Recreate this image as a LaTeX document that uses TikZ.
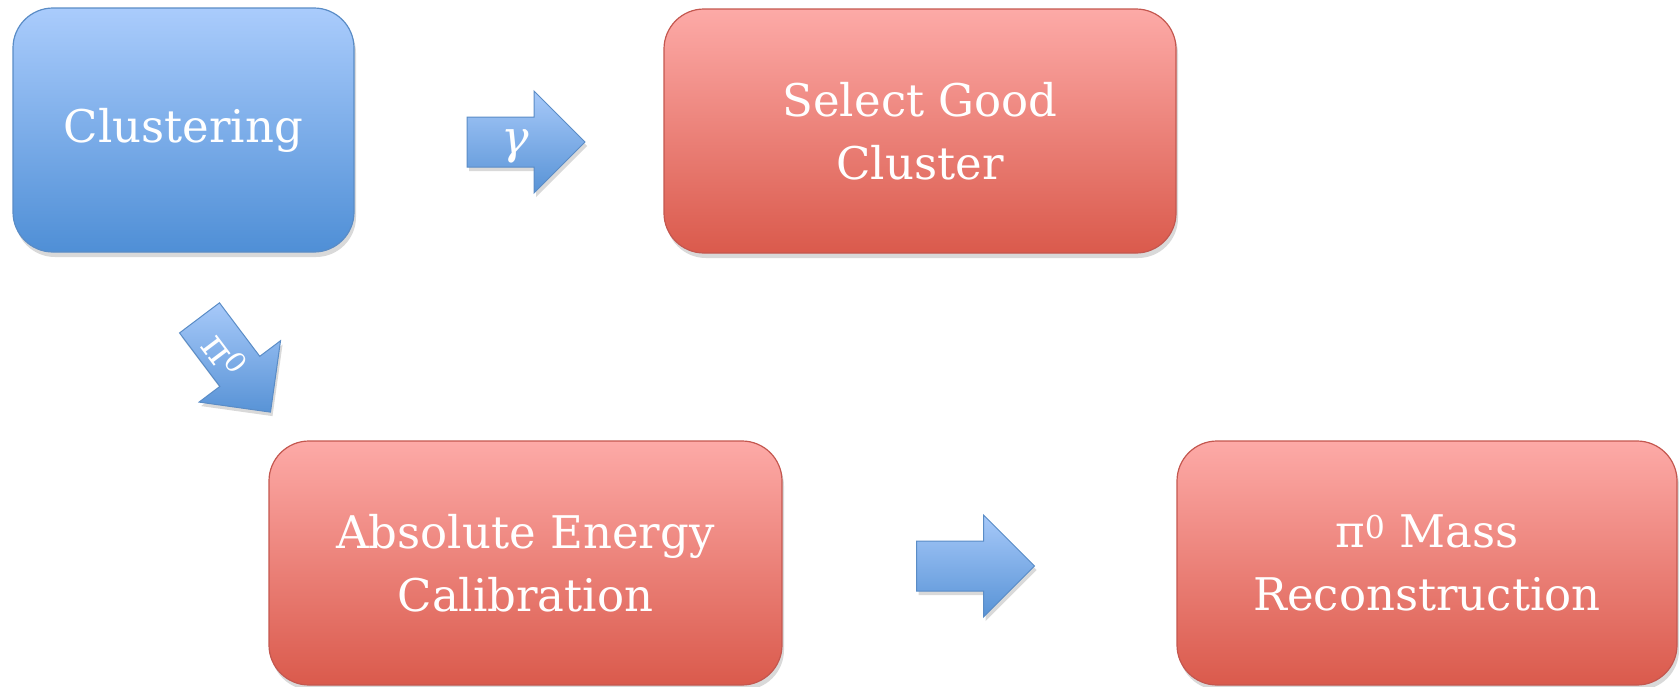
\documentclass[tikz,border=0pt]{standalone}
\usepackage{fontspec}
\setmainfont{DejaVu Serif}
\usetikzlibrary{shadows}
\definecolor{bluetop}{HTML}{AACCFC}
\definecolor{bluebot}{HTML}{4F8FD6}
\definecolor{blueedge}{HTML}{5A8CC6}
\definecolor{redtop}{HTML}{FDAAA7}
\definecolor{redbot}{HTML}{DA5A4C}
\definecolor{rededge}{HTML}{C4574F}
\definecolor{arrtop}{HTML}{A7C9F9}
\definecolor{arrbot}{HTML}{5893D6}
\tikzset{
  boxbase/.style={rectangle, rounded corners=40pt, line width=1.2pt, text=white,
    align=center, font=\fontsize{45}{63}\selectfont,
    drop shadow={shadow xshift=2pt, shadow yshift=-5pt, opacity=0.15, fill=black}},
  bluebox/.style={boxbase, draw=blueedge, top color=bluetop, bottom color=bluebot},
  redbox/.style={boxbase, draw=rededge, top color=redtop, bottom color=redbot},
  arrowbody/.style={draw=blueedge, line width=1pt, top color=arrtop, bottom color=arrbot,
    drop shadow={shadow xshift=2pt, shadow yshift=-4pt, opacity=0.15, fill=black}},
  arrlabel/.style={text=white, inner sep=0pt}
}
\begin{document}
\begin{tikzpicture}[x=1pt, y=-1pt]
\useasboundingbox (0,0) rectangle (1679,686);
% boxes
\node[bluebox, minimum width=341pt, minimum height=244pt] (clus) at (183.5,130) {Clustering};
\node[redbox, minimum width=512pt, minimum height=244pt] (sel) at (920,131) {Select Good\\Cluster};
\node[redbox, minimum width=513pt, minimum height=244pt] (abs) at (525.5,563) {Absolute Energy\\Calibration};
\node[redbox, minimum width=500pt, minimum height=244pt] (mass) at (1427,563) {π\textsuperscript{0} Mass\\Reconstruction};
% gamma arrow
\begin{scope}[shift={(526,142)}]
  \path[arrowbody] (-59,-25) -- (8,-25) -- (8,-51) -- (59,0) -- (8,51) -- (8,25) -- (-59,25) -- cycle;
  \node[arrlabel, font=\fontsize{46}{48}\selectfont\itshape] (glab) at (-11,4) {γ};
\end{scope}
% pi0 arrow
\begin{scope}[shift={(235,365)}, rotate=-53]
  \path[arrowbody] (-59,-25) -- (8,-25) -- (8,-51) -- (59,0) -- (8,51) -- (8,25) -- (-59,25) -- cycle;
  \node[arrlabel, font=\fontsize{40}{42}\selectfont, rotate=-53] (plab) at (-14,2) {π\textsuperscript{0}};
\end{scope}
% lower arrow
\begin{scope}[shift={(975.5,566)}]
  \path[arrowbody] (-59,-25) -- (8,-25) -- (8,-51) -- (59,0) -- (8,51) -- (8,25) -- (-59,25) -- cycle;
\end{scope}
\end{tikzpicture}
\end{document}
